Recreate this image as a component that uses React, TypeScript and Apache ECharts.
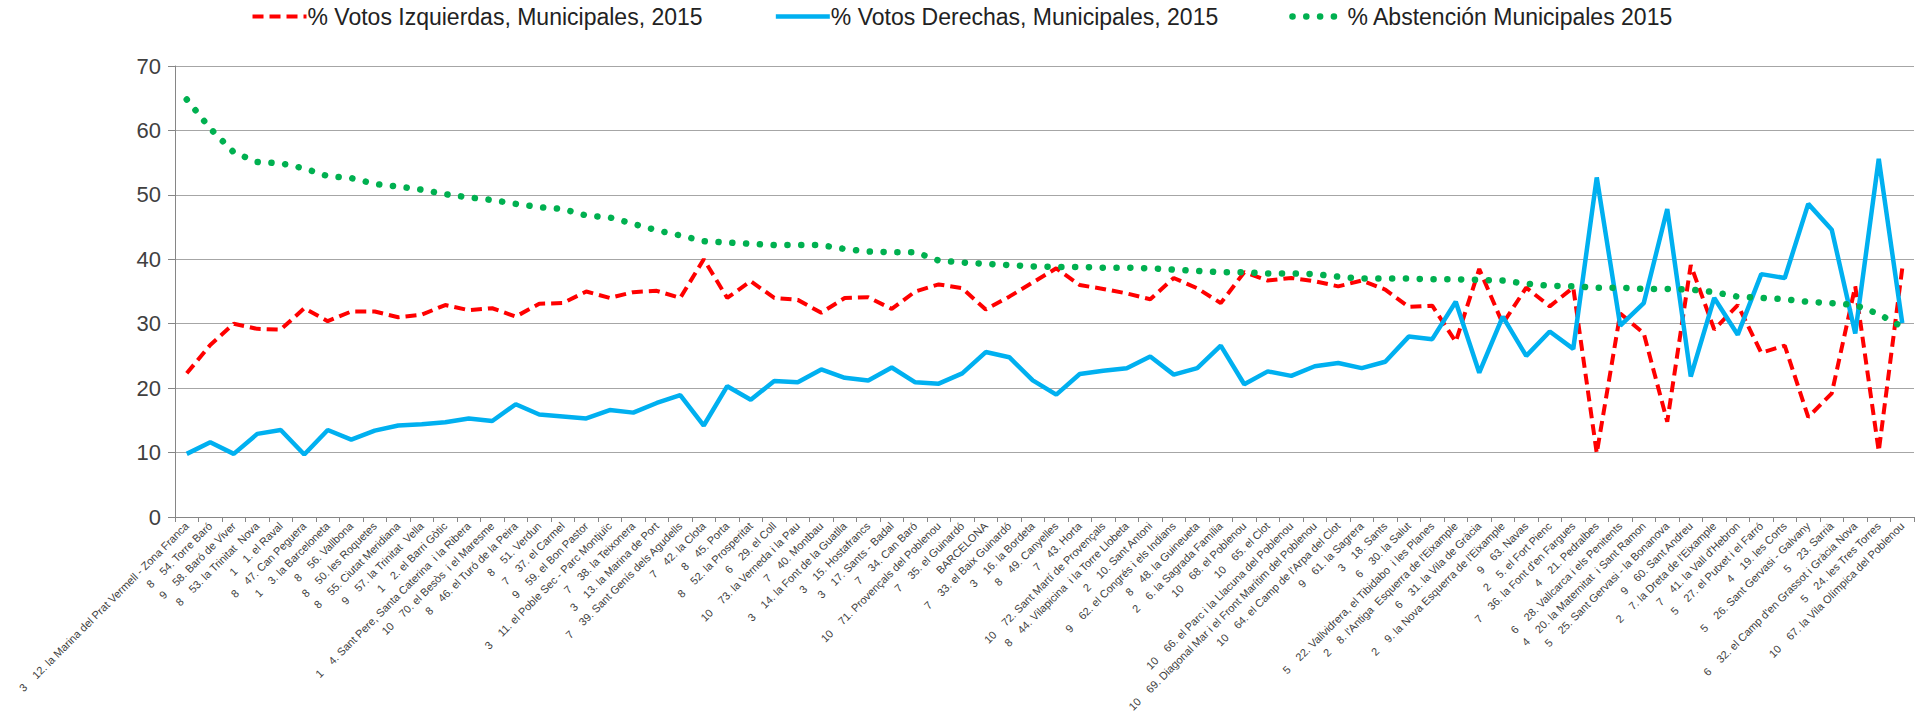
import React, { useEffect, useRef } from "react";
import * as echarts from "echarts";

const districts = [
  "3", "8", "9", "8", "1", "8", "1", "8", "8", "8", "9", "1", "1", "10", "8", "8", "7", "9", "3", "7",
  "3", "7", "7", "8", "8", "6", "10", "7", "3", "3", "3", "7", "10", "7", "", "7", "3", "8", "7", "10",
  "8", "2", "9", "8", "2", "10", "10", "10", "10", "10", "9", "3", "6", "5", "2", "6", "2", "9", "2", "7",
  "4", "6", "4", "5", "9", "2", "7", "5", "4", "5", "5", "6", "5", "10",
];

const barrios = [
  "12. la Marina del Prat Vermell - Zona Franca", "54. Torre Baró", "58. Baró de Viver", "53. la Trinitat  Nova",
  "1. el Raval", "47. Can Peguera", "3. la Barceloneta", "56. Vallbona", "50. les Roquetes", "55. Ciutat Meridiana",
  "57. la Trinitat  Vella", "2. el Barri Gòtic", "4. Sant Pere, Santa Caterina  i la Ribera", "70. el Besòs  i el Maresme",
  "46. el Turó de la Peira", "51. Verdun", "37. el Carmel", "59. el Bon Pastor", "11. el Poble Sec - Parc Montjuïc",
  "38. la Teixonera", "13. la Marina de Port", "39. Sant Genís dels Agudells", "42. la Clota", "45. Porta",
  "52. la Prosperitat", "29. el Coll", "73. la Verneda i la Pau", "40. Montbau", "14. la Font de la Guatlla",
  "15. Hostafrancs", "17. Sants - Badal", "34. Can Baró", "71. Provençals del Poblenou", "35. el Guinardó",
  "BARCELONA", "33. el Baix Guinardó", "16. la Bordeta", "49. Canyelles", "43. Horta",
  "72. Sant Martí de Provençals", "44. Vilapicina  i la Torre Llobeta", "10. Sant Antoni",
  "62. el Congrés i els Indians", "48. la Guineueta", "6. la Sagrada Família", "68. el Poblenou", "65. el Clot",
  "66. el Parc i la Llacuna del Poblenou", "69. Diagonal Mar i el Front Marítim del Poblenou",
  "64. el Camp de l'Arpa del Clot", "61. la Sagrera", "18. Sants", "30. la Salut",
  "22. Vallvidrera, el Tibidabo  i les Planes", "8. l'Antiga  Esquerra de l'Eixample", "31. la Vila de Gràcia",
  "9. la Nova Esquerra de l'Eixample", "63. Navas", "5. el Fort Pienc", "36. la Font d'en Fargues",
  "21. Pedralbes", "28. Vallcarca i els Penitents", "20. la Maternitat  i Sant Ramon",
  "25. Sant Gervasi - la Bonanova", "60. Sant Andreu", "7. la Dreta de l'Eixample", "41. la Vall d'Hebron",
  "27. el Putxet i el Farró", "19. les Corts", "26. Sant Gervasi - Galvany", "23. Sarrià",
  "32. el Camp d'en Grassot i Gràcia Nova", "24. les Tres Torres", "67. la Vila Olímpica del Poblenou",
];

const izquierdas = [
  22.3, 26.7, 30.0, 29.2, 29.1, 32.4, 30.4, 31.9, 31.9, 31.0, 31.4, 32.9, 32.1, 32.4, 31.1, 33.1, 33.2, 35.0, 34.0, 34.9,
  35.1, 34.0, 40.0, 34.0, 36.6, 34.0, 33.7, 31.7, 34.0, 34.1, 32.3, 35.0, 36.1, 35.5, 32.2, 34.2, 36.4, 38.6, 36.0, 35.4,
  34.7, 33.8, 37.1, 35.5, 33.2, 38.0, 36.7, 37.1, 36.6, 35.8, 36.7, 35.3, 32.6, 32.8, 27.2, 38.5, 30.0, 35.6, 32.7, 35.6,
  9.9, 31.6, 28.5, 14.8, 39.1, 29.1, 32.9, 25.5, 26.6, 15.5, 19.2, 35.8, 10.2, 38.6,
];

const derechas = [
  9.8, 11.6, 9.8, 12.9, 13.5, 9.7, 13.5, 12.0, 13.4, 14.2, 14.4, 14.7, 15.3, 14.9, 17.5, 15.9, 15.6, 15.3, 16.6, 16.2,
  17.7, 18.9, 14.2, 20.3, 18.2, 21.1, 20.9, 22.9, 21.6, 21.2, 23.2, 20.9, 20.7, 22.3, 25.6, 24.8, 21.2, 19.0, 22.2, 22.7,
  23.1, 24.9, 22.1, 23.1, 26.6, 20.6, 22.6, 21.9, 23.4, 23.9, 23.1, 24.1, 28.0, 27.6, 33.4, 22.4, 31.1, 25.0, 28.8, 26.1,
  52.7, 29.7, 33.2, 47.8, 21.8, 34.0, 28.3, 37.7, 37.1, 48.6, 44.6, 28.5, 55.6, 30.1,
];

const abstencion = [
  64.8, 60.3, 56.6, 55.1, 54.9, 54.1, 52.9, 52.6, 51.7, 51.3, 50.8, 50.1, 49.6, 49.2, 48.6, 48.1, 47.8, 46.8, 46.5, 45.5,
  44.5, 43.7, 42.8, 42.6, 42.4, 42.2, 42.2, 42.2, 41.6, 41.2, 41.1, 41.1, 39.8, 39.5, 39.3, 39.1, 38.9, 38.8, 38.8, 38.7,
  38.7, 38.6, 38.4, 38.2, 38.0, 38.0, 37.8, 37.8, 37.7, 37.3, 37.0, 37.0, 37.0, 36.9, 36.9, 36.8, 36.7, 36.2, 35.9, 35.8,
  35.6, 35.6, 35.4, 35.4, 35.3, 34.9, 34.2, 34.0, 33.8, 33.4, 33.2, 32.9, 31.5, 29.5,
];

const seriesNames = [
  "% Votos Izquierdas, Municipales, 2015",
  "% Votos Derechas, Municipales, 2015",
  "% Abstención Municipales 2015",
];

const yMin = 0;
const yMax = 70;
const yStep = 10;

const GAP = "\u00a0\u00a0\u00a0\u00a0";
const categories = barrios.map((b, i) =>
  (districts[i] ? districts[i] + GAP : "") + b.replace(/  /g, "\u00a0\u00a0")
);

const FONT = "'Liberation Sans', Arial, sans-serif";

export default function App() {
  const ref = useRef<HTMLDivElement>(null);
  useEffect(() => {
    if (!ref.current) return;
    const chart = echarts.init(ref.current, undefined, { renderer: "svg" });
    chart.setOption({
      animation: false,
      backgroundColor: "#ffffff",
      textStyle: { fontFamily: FONT },
      legend: {
        top: 0,
        left: "center",
        itemWidth: 54,
        itemHeight: 16,
        itemGap: 71,
        itemStyle: { opacity: 0 },
        lineStyle: { width: "inherit" },
        textStyle: { fontSize: 23, color: "#222222", fontFamily: FONT, padding: [0, 0, 0, -4] },
        data: seriesNames,
      },
      grid: { left: 175, right: 10, top: 66, bottom: 206, containLabel: false, outerBoundsMode: "none" },
      xAxis: {
        type: "category",
        data: categories,
        boundaryGap: true,
        axisLine: { show: true, lineStyle: { color: "#868686", width: 1 } },
        axisTick: { show: true, length: 5, lineStyle: { color: "#868686" } },
        axisLabel: {
          interval: 0,
          rotate: 45,
          fontSize: 11,
          color: "#404040",
          fontFamily: FONT,
          margin: 7,
        },
        splitLine: { show: false },
      },
      yAxis: {
        type: "value",
        min: yMin,
        max: yMax,
        interval: yStep,
        axisLine: { show: true, lineStyle: { color: "#868686", width: 1 } },
        axisTick: { show: true, length: 7, lineStyle: { color: "#868686" } },
        axisLabel: { fontSize: 22, color: "#404040", fontFamily: FONT, margin: 14 },
        splitLine: { show: true, lineStyle: { color: "#A6A6A6", width: 1 } },
      },
      series: [
        {
          name: seriesNames[0],
          type: "line",
          data: izquierdas,
          symbol: "none",
          color: "#FF0000",
          lineStyle: { color: "#FF0000", width: 4, type: [11, 6] },
        },
        {
          name: seriesNames[1],
          type: "line",
          data: derechas,
          symbol: "none",
          color: "#00B0F0",
          lineStyle: { color: "#00B0F0", width: 4.5, type: "solid" },
        },
        {
          name: seriesNames[2],
          type: "line",
          data: abstencion,
          symbol: "none",
          color: "#00B050",
          lineStyle: { color: "#00B050", width: 6.5, type: [0.1, 13.7], cap: "round" },
        },
      ],
    });
    return () => chart.dispose();
  }, []);
  return (
    <div
      ref={ref}
      style={{ position: "absolute", left: 0, top: 0, width: 1924, height: 723 }}
    />
  );
}
